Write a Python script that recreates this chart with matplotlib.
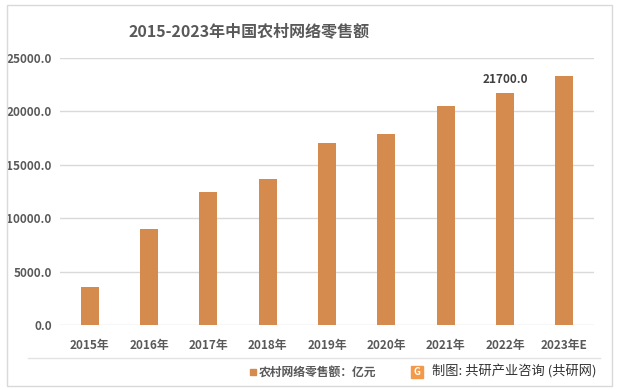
import matplotlib.pyplot as plt
from matplotlib.patches import Rectangle
from matplotlib.lines import Line2D

plt.rcParams['font.family'] = ['Noto Sans CJK SC', 'DejaVu Sans']

# data
years = ['2015年', '2016年', '2017年', '2018年', '2019年', '2020年', '2021年', '2022年', '2023年E']
sales = [3530, 8945, 12449, 13679, 17083, 17900, 20500, 21700, 23300]
label_idx = 7

bar_color = '#D48B4D'
text_color = '#595959'

fig = plt.figure(figsize=(6.17, 3.9), dpi=100)
ax = fig.add_axes([60 / 617, 1 - 325 / 390, 534 / 617, 267 / 390])

x = range(len(years))
ax.bar(x, sales, width=0.3, color=bar_color, zorder=3)
ax.set_xlim(-0.5, len(years) - 0.5)
ax.set_ylim(0, 25000)
ax.set_yticks(range(0, 25001, 5000))
ax.set_yticklabels([f'{v:.1f}' for v in range(0, 25001, 5000)])
ax.set_xticks(list(x))
ax.set_xticklabels(years)
ax.tick_params(length=0, labelsize=8.5, labelcolor=text_color, pad=6)
for lab in ax.get_xticklabels() + ax.get_yticklabels():
    lab.set_fontweight('bold')
ax.tick_params(axis='x', pad=10)
ax.grid(axis='y', color='#D9D9D9', linewidth=1, zorder=0)
for s in ax.spines.values():
    s.set_visible(False)

# value label
ax.text(label_idx, sales[label_idx] + 700, f'{sales[label_idx]:.1f}', ha='center', va='bottom',
        fontsize=8.5, fontweight='bold', color='#404040')

# title
fig.text(249 / 617, 1 - 31 / 390, '2015-2023年中国农村网络零售额', ha='center', va='center',
         fontsize=11.5, fontweight='bold', color=text_color)

# border and separator
fig.add_artist(Rectangle((7 / 617, 1 - 386 / 390), 605 / 617, 381 / 390, transform=fig.transFigure,
                         fill=False, edgecolor='#D9D9D9', linewidth=1))
fig.add_artist(Line2D([28 / 617, 600 / 617], [1 - 357.5 / 390] * 2, transform=fig.transFigure,
                      color='#E3E3E3', linewidth=1))

# legend
fig.add_artist(Rectangle((250 / 617, 1 - 375 / 390), 6 / 617, 6 / 390, transform=fig.transFigure,
                         color=bar_color))
fig.text(259 / 617, 1 - 372 / 390, '农村网络零售额：亿元', ha='left', va='center',
         fontsize=8.5, fontweight='bold', color=text_color)

# source
fig.add_artist(Rectangle((411 / 617, 1 - 378 / 390), 12 / 617, 12 / 390, transform=fig.transFigure,
                         color='#F29A4A'))
fig.text(417 / 617, 1 - 372 / 390, 'G', ha='center', va='center', fontsize=7, fontweight='bold', color='white')
fig.text(432 / 617, 1 - 372 / 390, '制图: 共研产业咨询 (共研网)', ha='left', va='center',
         fontsize=9.5, color='#333333')

plt.savefig('out.png', dpi=100)
